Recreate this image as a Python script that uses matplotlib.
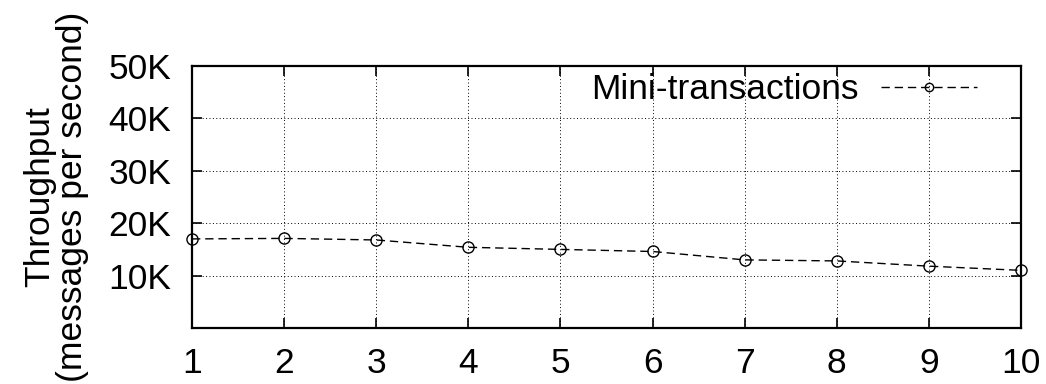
import matplotlib
matplotlib.use('Agg')
import matplotlib.pyplot as plt
import numpy as np

#Throughput numbers
nodes = [1, 2, 3, 4, 5, 6, 7, 8, 9, 10]
throughput = [17000, 17100, 16800, 15400, 15000, 14600, 13000, 12800, 11800, 11000]
yticks = [10000, 20000, 30000, 40000, 50000]
ytick_labels = ['10K', '20K', '30K', '40K', '50K']

FS = 25.5
plt.rcParams['font.family'] = ['Liberation Sans', 'DejaVu Sans']
plt.rcParams['font.size'] = FS

fig = plt.figure(figsize=(10.46, 3.84), dpi=100)
ax = fig.add_axes([192/1046, 1-328/384, (1021-192)/1046, (328-66)/384])

ax.plot(nodes, throughput, color='black', ls=(0, (6, 3.5)), lw=1.0,
        marker='o', mfc='none', mec='black', ms=8, mew=1.0,
        label='Mini-transactions', clip_on=False, zorder=5)

ax.set_xlim(1, 10)
ax.set_ylim(0, 50000)
ax.set_xticks(nodes)
ax.set_yticks(yticks)
ax.set_yticklabels(ytick_labels)

#Ticks inward on all four sides, like gnuplot
ax.tick_params(direction='in', top=True, right=True, length=7, width=1.2,
               labelsize=FS)
ax.tick_params(axis='y', pad=15)
ax.tick_params(axis='x', pad=14)
for s in ax.spines.values():
    s.set_linewidth(1.6)

ax.grid(True, color='black', ls=(0, (1, 2.5)), lw=0.7)

ax.set_ylabel('Throughput\n(messages per second)', fontsize=FS,
              linespacing=1.0, labelpad=14)

#Legend: text first, then the sample line, no frame
leg = ax.legend(loc='center right', bbox_to_anchor=(0.964, 0.91),
                frameon=False, markerfirst=False, borderaxespad=0,
                handlelength=2.7, handletextpad=0.64, fontsize=FS)
leg.legend_handles[0].set_markersize(6)

fig.savefig('out.png', dpi=100)
